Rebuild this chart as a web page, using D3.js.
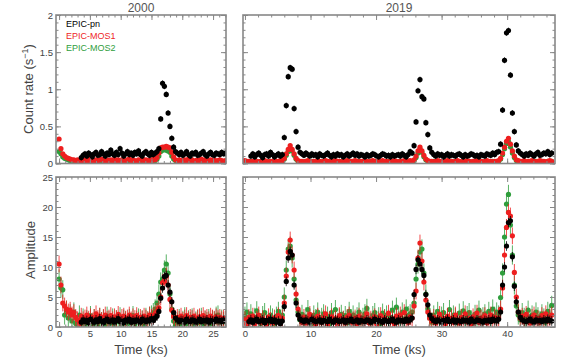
<!DOCTYPE html>
<html><head><meta charset="utf-8">
<script src="https://cdn.jsdelivr.net/npm/d3@7"></script>
<style>
body{margin:0;background:#fff;}
svg{display:block;font-family:"Liberation Sans",Arial,Helvetica,sans-serif;}
</style>
</head><body>
<svg id="chart" width="575" height="357"></svg>
<script>
// ---------- data ----------
const binWidth = 0.3;               // ks, light-curve bin
const seriesNames = ["EPIC-pn", "EPIC-MOS1", "EPIC-MOS2"];
const epochs = ["2000", "2019"];
const rateTicks = [0, 0.5, 1, 1.5, 2];
const ampTicks = [0, 5, 10, 15, 20, 25];
const timeTicks2000 = [0, 5, 10, 15, 20, 25];
const timeTicks2019 = [0, 10, 20, 30, 40];
const rateErr = [0.04, 0.02, 0.02];
const ampErr = [0.8, 1.4, 1.6];

const pnRate2000 = [
 null,null,null,null,null,null,null,null,null,null,
 null,null,0.08,0.11,0.13,0.10,0.14,0.12,0.09,0.13,
 0.15,0.11,0.12,0.16,0.13,0.10,0.14,0.12,0.18,0.13,
 0.11,0.15,0.12,0.20,0.14,0.10,0.13,0.16,0.12,0.14,
 0.11,0.15,0.13,0.17,0.12,0.10,0.14,0.16,0.13,0.11,
 0.15,0.12,0.14,0.16,0.20,0.60,1.08,1.04,0.93,0.68,
 0.50,0.34,0.22,0.16,0.14,0.12,0.15,0.11,0.13,0.16,
 0.12,0.10,0.14,0.13,0.15,0.11,0.12,0.14,0.16,0.12,
 0.10,0.13,0.15,0.12,0.11,0.14,0.13,0.12,0.15,0.13,
 0.14];
const mos1Rate2000 = [
 0.33,0.20,0.13,0.10,0.08,0.07,0.06,0.05,0.05,0.04,
 0.05,0.04,0.04,0.05,0.03,0.05,0.04,0.06,0.04,0.03,
 0.05,0.04,0.05,0.06,0.04,0.03,0.05,0.04,0.05,0.04,
 0.06,0.03,0.05,0.04,0.05,0.04,0.03,0.05,0.06,0.04,
 0.05,0.04,0.03,0.05,0.04,0.06,0.04,0.05,0.04,0.05,
 0.03,0.06,0.05,0.08,0.14,0.21,0.22,0.22,0.23,0.22,
 0.21,0.15,0.09,0.05,0.04,0.05,0.04,0.03,0.05,0.04,
 0.06,0.04,0.05,0.03,0.04,0.05,0.04,0.06,0.04,0.05,
 0.03,0.04,0.05,0.04,0.05,0.03,0.04,0.05,0.04,0.03,
 0.04];
const mos2Rate2000 = [
 0.16,0.13,0.09,0.07,0.06,0.05,0.04,0.04,0.03,0.04,
 0.03,0.04,0.03,0.04,0.02,0.04,0.03,0.05,0.03,0.02,
 0.04,0.03,0.04,0.05,0.03,0.02,0.04,0.03,0.04,0.03,
 0.05,0.02,0.04,0.03,0.04,0.03,0.02,0.04,0.05,0.03,
 0.04,0.03,0.02,0.04,0.03,0.05,0.03,0.04,0.03,0.04,
 0.02,0.05,0.04,0.06,0.10,0.16,0.18,0.19,0.18,0.17,
 0.15,0.10,0.06,0.04,0.03,0.04,0.03,0.02,0.04,0.03,
 0.05,0.03,0.04,0.02,0.03,0.04,0.03,0.05,0.03,0.04,
 0.02,0.03,0.04,0.03,0.04,0.02,0.03,0.04,0.03,0.02,
 0.03];
const pnAmp2000 = [
 null,null,null,null,null,null,null,null,null,null,
 null,null,0.8,1.2,0.9,1.1,0.7,1.3,1.0,0.8,
 1.2,0.9,1.4,1.0,0.7,1.1,1.3,0.9,1.0,1.2,
 0.8,1.1,1.4,0.9,1.0,0.7,1.2,1.0,1.3,0.8,
 1.1,0.9,1.2,1.0,0.8,1.3,1.1,0.9,1.2,1.0,
 1.4,1.1,1.5,1.8,2.6,4.8,6.5,8.4,8.6,7.0,
 5.8,4.2,2.4,1.5,1.2,0.9,1.1,1.0,0.8,1.3,
 1.0,0.9,1.2,1.1,0.8,1.0,1.3,0.9,1.1,1.0,
 1.2,0.8,1.1,1.0,0.9,1.3,1.0,1.1,0.9,1.2,
 1.0];
const mos1Amp2000 = [
 10.5,7.0,4.0,3.5,3.0,2.5,2.8,2.0,2.4,1.6,
 1.2,0.5,1.8,1.2,1.5,2.0,1.3,1.7,1.0,1.6,
 2.2,1.4,1.8,1.1,1.6,2.0,1.3,1.5,1.9,1.2,
 1.7,1.4,2.1,1.0,1.6,1.8,1.3,1.5,2.0,1.2,
 1.7,1.4,1.9,1.1,1.6,1.3,1.8,1.5,1.2,2.0,
 1.6,1.9,2.2,2.6,3.2,5.0,7.4,7.6,8.5,7.0,
 4.6,2.8,1.8,1.4,1.6,1.3,1.8,1.1,1.5,1.9,
 1.2,1.6,1.4,1.8,1.0,1.5,1.7,1.3,1.9,1.4,
 1.6,1.2,1.8,1.5,1.3,1.7,1.4,1.6,1.2,1.5,
 1.3];
const mos2Amp2000 = [
 8.0,6.5,6.2,2.0,2.8,1.5,2.2,1.0,2.5,0.6,
 0.4,2.0,0.6,1.5,0.2,1.2,0.8,1.9,0.5,1.4,
 1.0,0.3,1.6,0.9,1.3,0.4,1.8,1.1,0.7,1.5,
 0.2,1.2,0.9,1.7,0.5,1.3,1.0,0.6,1.4,0.8,
 1.9,0.4,1.1,1.5,0.7,1.2,0.3,1.6,1.0,1.8,
 2.0,2.4,3.0,4.0,5.5,7.5,8.0,9.5,10.5,9.0,
 5.5,3.0,1.0,0.3,0.8,1.4,0.5,1.1,1.7,0.6,
 1.2,0.9,1.5,0.4,1.0,1.3,0.7,1.6,0.5,1.1,
 0.9,1.4,0.6,1.2,1.0,1.8,2.0,0.8,1.3,0.9,
 1.1];

const pnRate2019 = [
 null,null,null,0.10,0.13,0.09,0.12,0.14,0.11,0.08,
 0.12,0.13,0.10,0.15,0.12,0.09,0.11,0.13,0.10,0.12,
 0.35,0.78,1.17,1.29,1.27,0.74,0.43,0.22,0.15,0.13,
 0.11,0.14,0.12,0.10,0.13,0.11,0.12,0.09,0.13,0.11,
 0.10,0.12,0.14,0.11,0.09,0.12,0.10,0.13,0.11,0.12,
 0.09,0.11,0.13,0.10,0.12,0.14,0.11,0.13,0.10,0.12,
 0.11,0.09,0.12,0.10,0.11,0.13,0.12,0.10,0.09,0.11,
 0.13,0.12,0.10,0.11,0.09,0.12,0.10,0.11,0.12,0.10,
 0.13,0.11,0.09,0.12,0.16,0.14,0.24,0.56,0.98,1.13,
 0.90,0.87,0.55,0.39,0.21,0.15,0.12,0.10,0.13,0.11,
 0.12,0.09,0.11,0.13,0.10,0.12,0.11,0.10,0.12,0.13,
 0.11,0.09,0.12,0.10,0.11,0.13,0.12,0.10,0.11,0.09,
 0.12,0.11,0.10,0.13,0.12,0.11,0.14,0.12,0.15,0.16,
 0.26,0.72,1.39,1.76,1.79,1.19,0.68,0.43,0.25,0.17,
 0.14,0.12,0.10,0.13,0.11,0.14,0.12,0.10,0.13,0.15,
 0.11,0.12,0.14,0.13,0.16,0.12,0.14];
const mos1Rate2019 = [
 0.04,0.03,0.03,0.02,0.03,0.04,0.03,0.02,0.03,0.03,
 0.04,0.03,0.02,0.03,0.03,0.04,0.03,0.03,0.04,0.04,
 0.07,0.13,0.19,0.24,0.19,0.13,0.07,0.04,0.03,0.03,
 0.02,0.03,0.04,0.03,0.02,0.03,0.03,0.04,0.03,0.02,
 0.03,0.04,0.03,0.03,0.02,0.03,0.04,0.03,0.03,0.02,
 0.03,0.03,0.04,0.02,0.03,0.03,0.04,0.03,0.02,0.03,
 0.03,0.04,0.03,0.02,0.03,0.04,0.03,0.03,0.02,0.03,
 0.04,0.03,0.03,0.02,0.03,0.03,0.04,0.03,0.02,0.03,
 0.03,0.04,0.03,0.03,0.04,0.03,0.05,0.10,0.17,0.22,
 0.17,0.11,0.06,0.04,0.03,0.03,0.02,0.03,0.04,0.03,
 0.03,0.02,0.03,0.04,0.03,0.03,0.02,0.03,0.04,0.03,
 0.02,0.03,0.03,0.04,0.03,0.02,0.03,0.03,0.04,0.03,
 0.03,0.02,0.03,0.04,0.03,0.03,0.02,0.03,0.03,0.04,
 0.07,0.14,0.22,0.30,0.34,0.26,0.17,0.10,0.05,0.04,
 0.03,0.03,0.04,0.02,0.03,0.03,0.04,0.03,0.02,0.03,
 0.04,0.03,0.03,0.02,0.03,0.04,0.03];
const mos2Rate2019 = [
 0.03,0.02,0.02,0.03,0.02,0.03,0.02,0.02,0.03,0.02,
 0.03,0.02,0.02,0.03,0.02,0.03,0.02,0.02,0.03,0.03,
 0.06,0.11,0.16,0.20,0.17,0.11,0.06,0.03,0.02,0.02,
 0.02,0.03,0.02,0.02,0.03,0.02,0.02,0.03,0.02,0.02,
 0.03,0.02,0.02,0.03,0.02,0.02,0.03,0.02,0.02,0.03,
 0.02,0.02,0.03,0.02,0.02,0.03,0.02,0.02,0.03,0.02,
 0.02,0.03,0.02,0.02,0.03,0.02,0.02,0.03,0.02,0.02,
 0.03,0.02,0.02,0.03,0.02,0.02,0.03,0.02,0.02,0.03,
 0.02,0.03,0.02,0.02,0.03,0.02,0.04,0.08,0.14,0.19,
 0.15,0.09,0.05,0.03,0.02,0.02,0.03,0.02,0.02,0.03,
 0.02,0.02,0.03,0.02,0.02,0.03,0.02,0.02,0.03,0.02,
 0.02,0.03,0.02,0.02,0.03,0.02,0.02,0.03,0.02,0.02,
 0.03,0.02,0.02,0.03,0.02,0.02,0.03,0.02,0.02,0.03,
 0.06,0.12,0.20,0.27,0.30,0.22,0.14,0.08,0.04,0.03,
 0.02,0.02,0.03,0.02,0.02,0.03,0.02,0.02,0.03,0.02,
 0.02,0.03,0.02,0.02,0.03,0.02,0.03];
const pnAmp2019 = [
 null,null,0.9,1.2,0.8,1.1,1.3,0.9,1.0,1.2,
 0.7,1.1,1.0,1.3,0.9,1.2,0.8,1.0,0.6,1.0,
 3.4,7.6,11.5,12.6,12.0,7.0,4.0,2.0,1.3,1.1,
 0.9,1.2,1.0,0.8,1.3,1.1,0.9,1.0,1.2,0.8,
 1.1,1.0,0.9,1.3,1.0,0.8,1.2,1.1,0.9,1.0,
 1.2,0.8,1.1,1.0,1.3,0.9,1.0,1.2,0.8,1.1,
 1.0,0.9,1.2,1.1,0.8,1.0,1.3,0.9,1.1,1.0,
 0.8,1.2,1.0,0.9,1.1,1.3,1.0,0.8,1.2,1.0,
 1.1,0.9,1.3,1.0,1.2,1.5,5.4,9.6,11.2,10.5,
 9.6,8.6,5.4,3.7,2.0,1.4,1.1,0.9,1.2,1.0,
 0.8,1.1,1.0,1.3,0.9,1.0,1.2,0.8,1.1,1.0,
 0.9,1.2,1.0,1.1,0.8,1.3,1.0,0.9,1.2,1.1,
 1.0,0.8,1.1,1.0,1.2,0.9,1.3,1.1,1.0,1.3,
 2.5,7.0,10.0,13.5,17.4,17.7,11.7,6.8,4.2,2.5,
 1.6,1.2,1.0,0.9,1.1,1.3,1.0,0.8,1.2,1.0,
 1.1,0.9,1.2,1.0,1.3,1.1,1.0];
const mos1Amp2019 = [
 1.2,0.5,1.6,0.9,1.8,0.6,1.3,2.0,0.8,1.4,
 1.0,0.4,1.7,1.1,0.7,1.5,0.9,1.9,0.6,1.5,
 4.0,8.5,12.5,14.5,12.0,9.5,5.5,3.0,1.5,0.8,
 1.6,0.7,1.3,2.1,0.9,1.4,0.5,1.8,1.1,0.8,
 1.5,2.2,0.6,1.2,1.7,0.9,1.4,0.5,1.9,1.0,
 1.3,0.7,1.6,2.0,0.8,1.2,1.5,0.6,1.8,1.1,
 0.9,1.4,2.2,0.7,1.3,1.0,1.7,0.5,1.2,1.9,
 0.8,1.5,1.1,2.3,0.9,1.4,0.6,1.8,1.2,2.0,
 1.0,2.4,1.3,0.8,1.7,1.5,3.5,6.0,11.5,14.0,
 11.0,7.5,4.5,2.5,1.5,1.0,1.6,0.7,1.3,2.1,
 0.9,1.4,0.6,1.8,1.1,1.5,0.8,2.0,1.2,0.7,
 1.6,1.0,2.2,0.9,1.4,0.5,1.7,1.2,2.3,0.8,
 1.5,1.1,1.9,0.7,1.3,2.0,1.0,1.6,1.2,1.5,
 3.0,6.5,12.0,16.6,19.1,18.5,15.2,9.1,5.0,2.5,
 1.5,1.8,0.9,2.1,1.2,0.7,1.6,2.0,1.0,1.4,
 0.8,1.9,1.3,2.2,1.0,1.6,2.0];
const mos2Amp2019 = [
 1.8,2.5,1.0,2.2,0.8,1.6,2.7,1.2,0.6,1.9,
 2.4,1.1,0.7,2.0,1.5,0.5,1.8,2.6,1.3,2.0,
 5.0,9.5,13.0,13.5,11.5,8.0,4.5,2.5,1.2,2.1,
 0.8,1.7,2.9,1.2,0.6,2.0,1.4,2.5,0.9,1.6,
 2.2,1.0,1.8,0.5,2.4,1.3,2.9,0.8,1.5,2.1,
 1.1,1.9,0.7,2.6,1.4,2.0,1.0,1.7,2.5,0.9,
 1.6,2.2,3.1,1.2,0.8,1.9,2.4,1.1,1.7,0.6,
 2.3,1.4,2.0,0.9,1.6,2.8,1.2,3.3,1.8,1.0,
 2.5,1.3,3.0,1.9,2.2,2.5,4.0,8.0,10.5,12.5,
 13.0,9.0,5.5,3.0,1.5,0.8,2.0,1.3,2.6,1.0,
 1.8,2.4,0.9,1.5,2.9,1.1,2.0,1.6,0.7,2.3,
 1.4,2.7,1.0,1.9,2.4,1.2,0.8,2.1,1.5,2.8,
 1.1,1.7,2.2,1.0,2.6,1.4,3.0,1.8,2.5,2.0,
 4.9,9.0,15.0,20.5,22.1,17.0,12.0,7.0,3.5,2.0,
 1.2,2.4,1.6,0.9,2.8,1.3,2.0,1.0,2.5,1.7,
 1.1,2.2,1.5,0.8,2.6,2.0,3.6];

// ---------- drawing ----------
const colors = ["#000000", "#ee1f1f", "#2f9e3c"];
const svg = d3.select("#chart");
const frameColor = "#888";
const labelColor = "#444";

const panels = [
  {id: "tl", x0: 56, x1: 226, y0: 15, y1: 163.5, xdom: [-0.5, 27.1], ydom: [0, 2],
   series: [pnRate2000, mos1Rate2000, mos2Rate2000], err: rateErr,
   yt: rateTicks, ymin: 0.1, xt: timeTicks2000, xmin: 1, showX: false, showY: true, title: epochs[0]},
  {id: "tr", x0: 243, x1: 555, y0: 15, y1: 163.5, xdom: [-0.3, 47.3], ydom: [0, 2],
   series: [pnRate2019, mos1Rate2019, mos2Rate2019], err: rateErr,
   yt: rateTicks, ymin: 0.1, xt: timeTicks2019, xmin: 2, showX: false, showY: false, title: epochs[1]},
  {id: "bl", x0: 56, x1: 226, y0: 177, y1: 327, xdom: [-0.5, 27.1], ydom: [0, 25],
   series: [pnAmp2000, mos1Amp2000, mos2Amp2000], err: ampErr,
   yt: ampTicks, ymin: 1, xt: timeTicks2000, xmin: 1, showX: true, showY: true},
  {id: "br", x0: 243, x1: 555, y0: 177, y1: 327, xdom: [-0.3, 47.3], ydom: [0, 25],
   series: [pnAmp2019, mos1Amp2019, mos2Amp2019], err: ampErr,
   yt: ampTicks, ymin: 1, xt: timeTicks2019, xmin: 2, showX: true, showY: false}
];

const defs = svg.append("defs");

panels.forEach(p => {
  const x = d3.scaleLinear().domain(p.xdom).range([p.x0, p.x1]);
  const y = d3.scaleLinear().domain(p.ydom).range([p.y1, p.y0]);
  const g = svg.append("g");

  defs.append("clipPath").attr("id", "clip-" + p.id)
    .append("rect").attr("x", p.x0).attr("y", p.y0)
    .attr("width", p.x1 - p.x0).attr("height", p.y1 - p.y0);

  // data: draw MOS2, MOS1, then pn on top
  const plot = g.append("g").attr("clip-path", "url(#clip-" + p.id + ")");
  [2, 1, 0].forEach(si => {
    const pts = p.series[si].map((v, i) => ({t: i * binWidth, v}))
      .filter(d => d.v !== null);
    const sg = plot.append("g");
    sg.selectAll("line").data(pts).join("line")
      .attr("x1", d => x(d.t)).attr("x2", d => x(d.t))
      .attr("y1", d => y(d.v - p.err[si])).attr("y2", d => y(d.v + p.err[si]))
      .attr("stroke", colors[si]).attr("stroke-width", 0.8);
    sg.selectAll("circle").data(pts).join("circle")
      .attr("cx", d => x(d.t)).attr("cy", d => y(d.v))
      .attr("r", 2.6).attr("fill", colors[si]);
  });

  const xMinor = d3.range(Math.ceil(p.xdom[0] / p.xmin) * p.xmin, p.xdom[1], p.xmin);
  const yMinor = d3.range(p.ydom[0], p.ydom[1] + 1e-9, p.ymin);
  const axStyle = sel => {
    sel.select(".domain").remove();
    sel.selectAll(".tick line").attr("stroke", frameColor).attr("stroke-width", 1);
    sel.selectAll(".tick text").attr("fill", labelColor)
      .style("font-size", "9.5px").style("font-family", "'Liberation Sans', Arial, sans-serif");
  };
  const mk = (axisFn, scale, vals, size, labels, tx, ty) => {
    const a = axisFn(scale).tickValues(vals).tickSize(size).tickPadding(3);
    if (!labels) a.tickFormat("");
    else a.tickFormat(d3.format("~g"));
    g.append("g").attr("transform", `translate(${tx},${ty})`).call(a).call(axStyle);
  };
  // minor ticks
  mk(d3.axisBottom, x, xMinor, -2.5, false, 0, p.y1);
  mk(d3.axisTop, x, xMinor, -2.5, false, 0, p.y0);
  mk(d3.axisLeft, y, yMinor, -2.5, false, p.x0, 0);
  mk(d3.axisRight, y, yMinor, -2.5, false, p.x1, 0);
  // major ticks
  mk(d3.axisBottom, x, p.xt, -5, p.showX, 0, p.y1);
  mk(d3.axisTop, x, p.xt, -5, false, 0, p.y0);
  mk(d3.axisLeft, y, p.yt, -5, p.showY, p.x0, 0);
  mk(d3.axisRight, y, p.yt, -5, false, p.x1, 0);

  // frame
  g.append("rect").attr("x", p.x0).attr("y", p.y0)
    .attr("width", p.x1 - p.x0).attr("height", p.y1 - p.y0)
    .attr("fill", "none").attr("stroke", frameColor).attr("stroke-width", 1.6);

  if (p.title) {
    svg.append("text").attr("x", (p.x0 + p.x1) / 2).attr("y", 11.5)
      .attr("text-anchor", "middle").attr("fill", "#555")
      .style("font-size", "12px").text(p.title);
  }
  if (p.showX) {
    svg.append("text").attr("x", (p.x0 + p.x1) / 2).attr("y", 354)
      .attr("text-anchor", "middle").attr("fill", "#444")
      .style("font-size", "13px").text("Time (ks)");
  }
});

// y titles
const ct = svg.append("text").attr("transform", "translate(33,89) rotate(-90)")
  .attr("text-anchor", "middle").attr("fill", "#444").style("font-size", "13px");
ct.append("tspan").text("Count rate (s");
ct.append("tspan").attr("dy", -5).style("font-size", "9px").text("−1");
ct.append("tspan").attr("dy", 5).text(")");
svg.append("text").attr("transform", "translate(35,250) rotate(-90)")
  .attr("text-anchor", "middle").attr("fill", "#444").style("font-size", "13px")
  .text("Amplitude");

// legend
seriesNames.forEach((name, i) => {
  svg.append("text").attr("x", 66).attr("y", 27 + i * 12)
    .attr("fill", colors[i]).style("font-size", "9px").text(name);
});
</script>
</body></html>
